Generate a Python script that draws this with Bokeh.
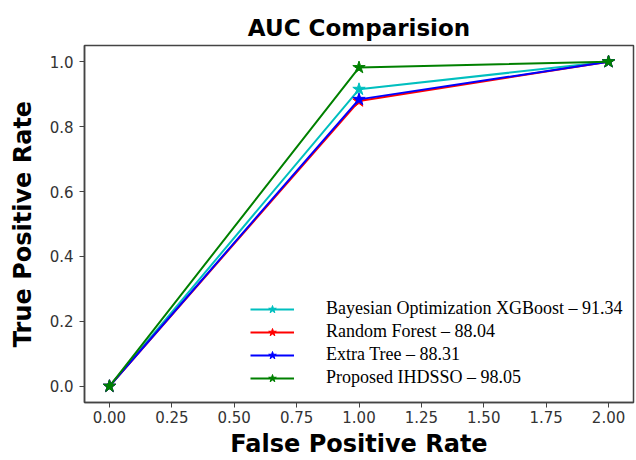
from bokeh.plotting import figure
from bokeh.models import Legend, LegendItem, FixedTicker, PrintfTickFormatter, Range1d, Title
from bokeh.embed import file_html
from bokeh.resources import INLINE

fpr = [0.0, 1.0, 2.0]
series_names = ["Bayesian Optimization XGBoost \u2013 91.34",
                "Random Forest \u2013 88.04",
                "Extra Tree \u2013 88.31",
                "Proposed IHDSSO \u2013 98.05"]
tpr_xgb = [0.0, 0.915, 1.0]
tpr_rf = [0.0, 0.879, 1.0]
tpr_et = [0.0, 0.884, 1.0]
tpr_ihdsso = [0.0, 0.982, 1.0]
colors = ["#00BFBF", "#FF0000", "#0000FF", "#008000"]
x_ticks = [0.0, 0.25, 0.5, 0.75, 1.0, 1.25, 1.5, 1.75, 2.0]
y_ticks = [0.0, 0.2, 0.4, 0.6, 0.8, 1.0]

p = figure(width=636, height=460, output_backend="svg", toolbar_location=None,
           x_range=Range1d(-0.1, 2.1), y_range=Range1d(-0.05, 1.05),
           min_border_left=84, min_border_right=3, min_border_bottom=57, min_border_top=45)

p.title = Title(text="AUC Comparision", align="center", text_font="DejaVu Sans",
                text_font_size="23px", text_font_style="bold", text_color="#000000",
                standoff=10)

p.xgrid.visible = False
p.ygrid.visible = False
p.outline_line_color = "#444444"
p.outline_line_width = 1.5
p.outline_line_alpha = 1.0

for ax in (p.xaxis[0], p.yaxis[0]):
    ax.axis_line_color = "#444444"
    ax.axis_line_width = 1.5
    ax.major_tick_line_color = "#444444"
    ax.major_tick_out = 5
    ax.major_tick_in = 0
    ax.minor_tick_line_color = None
    ax.major_label_text_font = "DejaVu Sans"
    ax.major_label_text_font_size = "15px"
    ax.major_label_text_color = "#333333"
    ax.axis_label_text_font = "DejaVu Sans"
    ax.axis_label_text_font_size = "24px"
    ax.axis_label_text_font_style = "bold"
    ax.axis_label_text_color = "#000000"

p.xaxis.ticker = FixedTicker(ticks=x_ticks)
p.yaxis.ticker = FixedTicker(ticks=y_ticks)
p.xaxis.formatter = PrintfTickFormatter(format="%.2f")
p.yaxis.formatter = PrintfTickFormatter(format="%.1f")
p.xaxis.axis_label = "False Positive Rate"
p.yaxis.axis_label = "True Positive Rate"
p.xaxis.major_label_standoff = 3
p.xaxis.axis_label_standoff = 4
p.yaxis.major_label_standoff = 6
p.yaxis.axis_label_standoff = 10

items = []
for name, tpr, c in zip(series_names, [tpr_xgb, tpr_rf, tpr_et, tpr_ihdsso], colors):
    ln = p.line(fpr, tpr, line_color=c, line_width=2)
    sc = p.scatter(fpr, tpr, marker="star", size=13, fill_color=c, line_color=c)
    items.append(LegendItem(label=name, renderers=[ln, sc]))

legend = Legend(items=items, location=(166, 14), border_line_color=None,
                background_fill_alpha=0, padding=0, margin=0, spacing=2,
                glyph_width=44, glyph_height=20, label_height=20,
                label_standoff=32, label_text_font="Liberation Serif",
                label_text_font_size="18px", label_text_color="#000000")
p.add_layout(legend, "center")

open("out.html", "w").write(file_html(p, INLINE))
